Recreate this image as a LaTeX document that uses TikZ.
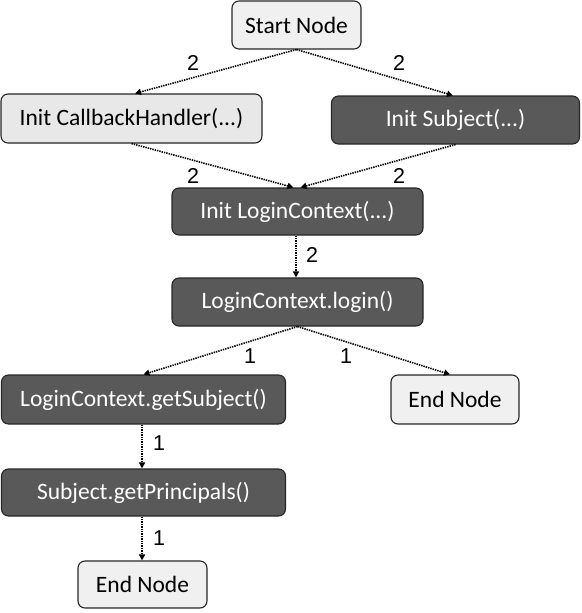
\documentclass[tikz,border=0pt]{standalone}
\usepackage{fontspec}
\setmainfont{Carlito}
\newfontfamily\labelfont{Liberation Sans}
\usetikzlibrary{arrows.meta}
\definecolor{lightfill}{HTML}{F0F0F0}
\definecolor{lightfillb}{HTML}{E8E8E8}
\definecolor{darkfill}{HTML}{595959}
\definecolor{edgecol}{HTML}{262626}
\begin{document}
\begin{tikzpicture}[x=1pt,y=-1pt,
  box/.style={draw=edgecol,line width=1.1pt,rounded corners=7pt,inner sep=0pt,
    font=\fontsize{23.5}{27}\selectfont},
  lightbox/.style={box,fill=lightfill,text=black},
  darkbox/.style={box,fill=darkfill,text=white},
  flow/.style={line width=1.6pt,dash pattern=on 1.4pt off 1pt,
    -{Triangle[length=6pt,width=6pt]}},
  lbl/.style={font=\labelfont\fontsize{21.5}{25}\selectfont,inner sep=0pt}]
\useasboundingbox (0,0) rectangle (581,613);
\node[lightbox,minimum width=129pt,minimum height=48pt] (start) at (296.5,25) {Start Node};
\node[lightbox,fill=lightfillb,minimum width=261pt,minimum height=49pt] (cb) at (131.5,118.5) {Init CallbackHandler(...)};
\node[darkbox,minimum width=248pt,minimum height=48pt] (subj) at (455.5,120) {Init Subject(...)};
\node[darkbox,minimum width=251pt,minimum height=47pt] (lc) at (297.5,211.5) {Init LoginContext(...)};
\node[darkbox,minimum width=251pt,minimum height=48pt] (login) at (297.5,302) {LoginContext.login()};
\node[darkbox,minimum width=284pt,minimum height=49pt] (gs) at (143.5,399.5) {LoginContext.getSubject()};
\node[lightbox,minimum width=128pt,minimum height=49pt] (endr) at (455,399.5) {End Node};
\node[darkbox,minimum width=284pt,minimum height=47pt] (gp) at (143.5,492.5) {Subject.getPrincipals()};
\node[lightbox,minimum width=129pt,minimum height=47pt] (endb) at (142.5,584.5) {End Node};

\draw[flow] (start.south) -- ([xshift=3.5pt]cb.north);
\draw[flow] (start.south) -- ([xshift=-2.5pt]subj.north);
\draw[flow] (cb.south) -- ([xshift=-4pt]lc.north);
\draw[flow] (subj.south) -- ([xshift=3pt]lc.north);
\draw[flow] ([xshift=-1.5pt]lc.south) -- ([xshift=-1.5pt]login.north);
\draw[flow] (login.south) -- (gs.north);
\draw[flow] (login.south) -- ([xshift=-5pt]endr.north);
\draw[flow] ([xshift=-1.5pt]gs.south) -- ([xshift=-1.5pt]gp.north);
\draw[flow] ([xshift=-1.5pt]gp.south) -- ([xshift=-0.5pt]endb.north);

\node[lbl] (l1) at (193,63) {2};
\node[lbl] (l2) at (399,63) {2};
\node[lbl] (l3) at (193,176) {2};
\node[lbl] (l4) at (399,176) {2};
\node[lbl] (l5) at (312,255) {2};
\node[lbl] (l6) at (250,356) {1};
\node[lbl] (l7) at (346,356) {1};
\node[lbl] (l8) at (159,443) {1};
\node[lbl] (l9) at (159,538) {1};
\end{tikzpicture}
\end{document}
